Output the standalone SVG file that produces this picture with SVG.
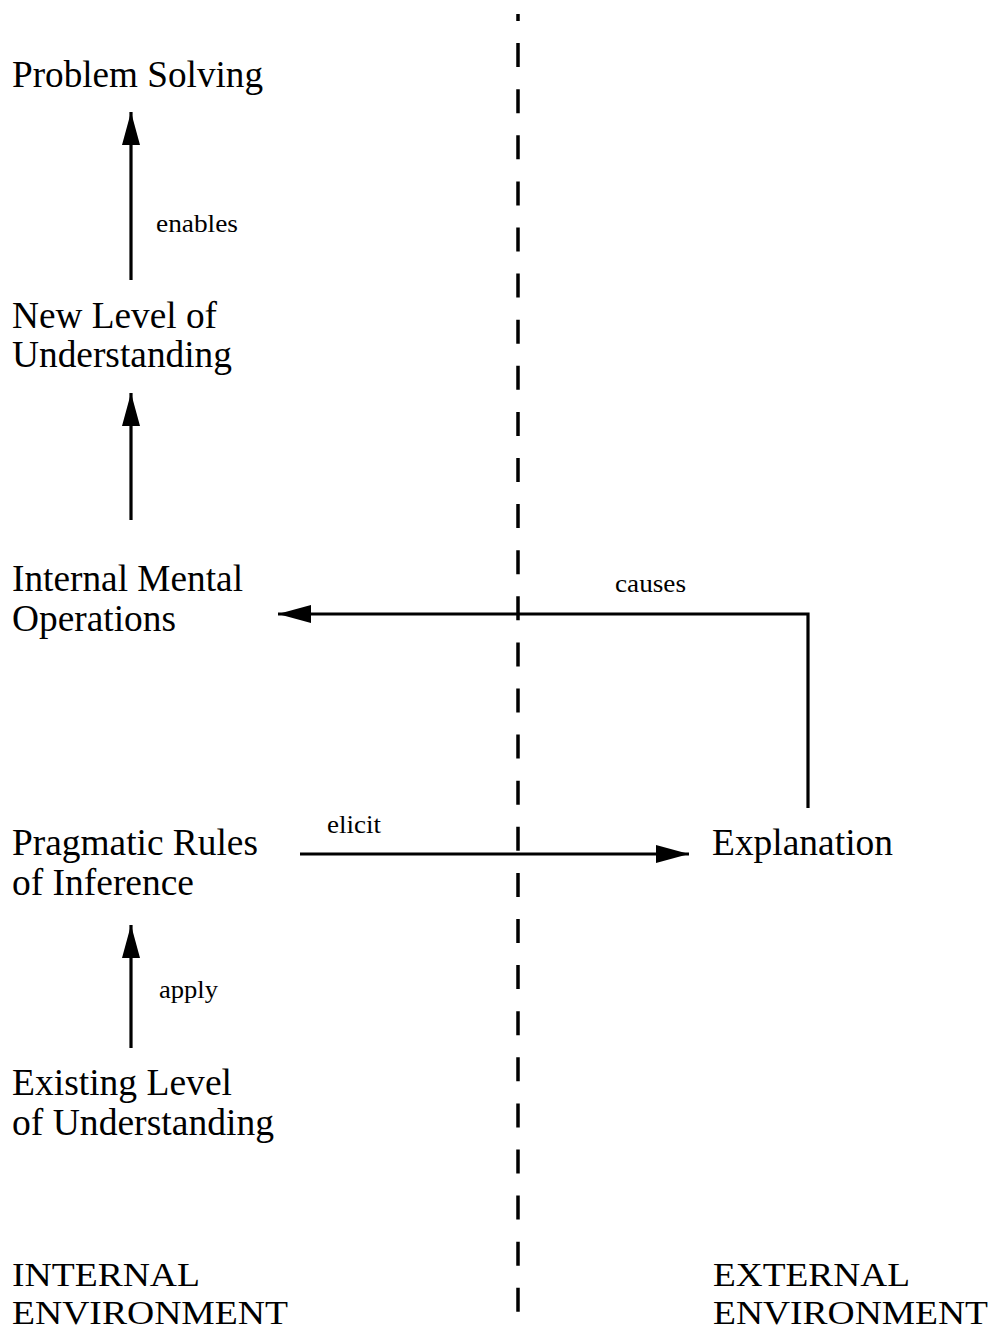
<svg xmlns="http://www.w3.org/2000/svg" width="994" height="1332" viewBox="0 0 994 1332">
  <defs>
    <style>
      .big { font-family: "Liberation Serif", "Times New Roman", serif; font-size: 37px; fill: #000; }
      .caps { font-family: "Liberation Serif", "Times New Roman", serif; font-size: 34px; fill: #000; }
      .small { font-family: "Liberation Serif", "Times New Roman", serif; font-size: 25px; fill: #000; }
      .line { stroke: #000; stroke-width: 3.2; fill: none; }
      .divider { stroke: #000; stroke-width: 3.5; fill: none; stroke-dasharray: 24 22.1; stroke-dashoffset: 17; }
    </style>
    <marker id="head" viewBox="0 0 33 18" refX="33" refY="9" markerWidth="33" markerHeight="18" markerUnits="userSpaceOnUse" orient="auto">
      <path d="M0,0 L33,9 L0,18 Z" fill="#000"/>
    </marker>
  </defs>

  <rect width="994" height="1332" fill="#fff"/>

  <!-- boundary between internal and external environment -->
  <path class="divider" d="M518,14 L518,1312"/>

  <g id="connectors">
    <path class="line" d="M131,280 L131,112" marker-end="url(#head)"/>
    <path class="line" d="M131,520 L131,393" marker-end="url(#head)"/>
    <path class="line" d="M808,808 L808,614 L278,614" marker-end="url(#head)"/>
    <path class="line" d="M300,854 L689,854" marker-end="url(#head)"/>
    <path class="line" d="M131,1048 L131,925" marker-end="url(#head)"/>
  </g>

  <g id="labels">
    <text class="small" x="156" y="232" textLength="82" lengthAdjust="spacingAndGlyphs">enables</text>
    <text class="small" x="615" y="592" textLength="71" lengthAdjust="spacingAndGlyphs">causes</text>
    <text class="small" x="327" y="833" textLength="54" lengthAdjust="spacingAndGlyphs">elicit</text>
    <text class="small" x="159" y="998" textLength="59" lengthAdjust="spacingAndGlyphs">apply</text>
  </g>

  <g id="problem-solving">
    <text class="big" x="12" y="87" textLength="251" lengthAdjust="spacingAndGlyphs">Problem Solving</text>
  </g>
  <g id="new-level">
    <text class="big" x="12" y="328" textLength="205" lengthAdjust="spacingAndGlyphs">New Level of</text>
    <text class="big" x="12" y="367" textLength="220" lengthAdjust="spacingAndGlyphs">Understanding</text>
  </g>
  <g id="internal-operations">
    <text class="big" x="12" y="591" textLength="231" lengthAdjust="spacingAndGlyphs">Internal Mental</text>
    <text class="big" x="12" y="631" textLength="164" lengthAdjust="spacingAndGlyphs">Operations</text>
  </g>
  <g id="pragmatic-rules">
    <text class="big" x="12" y="855" textLength="246" lengthAdjust="spacingAndGlyphs">Pragmatic Rules</text>
    <text class="big" x="12" y="895" textLength="182" lengthAdjust="spacingAndGlyphs">of Inference</text>
  </g>
  <g id="explanation">
    <text class="big" x="712" y="855" textLength="181" lengthAdjust="spacingAndGlyphs">Explanation</text>
  </g>
  <g id="existing-level">
    <text class="big" x="12" y="1095" textLength="220" lengthAdjust="spacingAndGlyphs">Existing Level</text>
    <text class="big" x="12" y="1135" textLength="262" lengthAdjust="spacingAndGlyphs">of Understanding</text>
  </g>
  <g id="internal-environment">
    <text class="caps" x="12" y="1286" textLength="188" lengthAdjust="spacingAndGlyphs">INTERNAL</text>
    <text class="caps" x="12" y="1324" textLength="276" lengthAdjust="spacingAndGlyphs">ENVIRONMENT</text>
  </g>
  <g id="external-environment">
    <text class="caps" x="713" y="1286" textLength="197" lengthAdjust="spacingAndGlyphs">EXTERNAL</text>
    <text class="caps" x="713" y="1324" textLength="275" lengthAdjust="spacingAndGlyphs">ENVIRONMENT</text>
  </g>
</svg>
